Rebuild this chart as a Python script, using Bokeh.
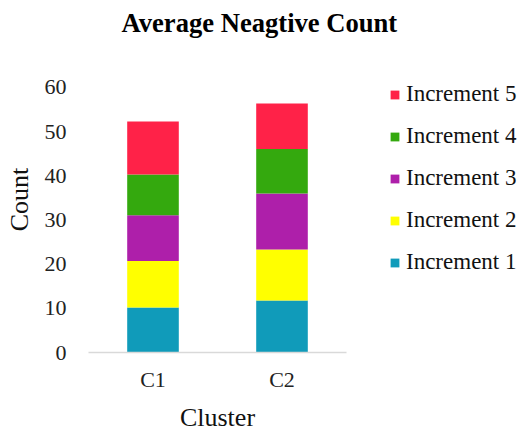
from bokeh.plotting import figure
from bokeh.models import ColumnDataSource, FactorRange, Range1d, Legend, LegendItem, FixedTicker
from bokeh.embed import file_html
from bokeh.resources import INLINE

clusters = ["C1", "C2"]
increments = ["Increment 1", "Increment 2", "Increment 3", "Increment 4", "Increment 5"]
inc1 = [10.2, 11.8]
inc2 = [10.5, 11.5]
inc3 = [10.4, 12.7]
inc4 = [9.2, 10.1]
inc5 = [12.0, 10.3]
colors = ["#109BBA", "#FFFF00", "#AE1FAA", "#34A90E", "#FF2248"]
y_ticks = [0, 10, 20, 30, 40, 50, 60]

FONT = "Liberation Serif"

source = ColumnDataSource(data=dict(cluster=clusters, i1=inc1, i2=inc2, i3=inc3, i4=inc4, i5=inc5))

p = figure(frame_width=258, frame_height=306, x_range=FactorRange(*clusters, range_padding=0),
           y_range=Range1d(0, 69.28), output_backend="svg", toolbar_location=None,
           title="Average Neagtive Count")
p.min_border_left = 88
p.min_border_right = 178
p.min_border_top = 45
p.min_border_bottom = 79
p.outline_line_color = None
p.background_fill_color = "white"
p.border_fill_color = "white"

p.title.text_font = FONT
p.title.text_font_size = "26.6px"
p.title.text_font_style = "bold"
p.title.align = "left"
p.title.offset = 33
p.title.vertical_align = "top"
p.title.standoff = 14
p.title.text_color = "black"

rs = p.vbar_stack(["i1", "i2", "i3", "i4", "i5"], x="cluster", width=0.4, source=source,
                  color=colors, line_color=None)

p.xgrid.visible = False
p.ygrid.visible = False

p.yaxis.ticker = FixedTicker(ticks=y_ticks)
p.yaxis.axis_line_color = None
p.yaxis.major_tick_line_color = None
p.yaxis.minor_tick_line_color = None
p.yaxis.major_tick_out = 0
p.yaxis.minor_tick_out = 0
p.yaxis.major_label_standoff = 22
p.yaxis.axis_label = "Count"
p.yaxis.axis_label_standoff = 8

p.xaxis.axis_line_color = "#D9D9D9"
p.xaxis.axis_line_width = 1.5
p.xaxis.major_tick_line_color = None
p.xaxis.minor_tick_line_color = None
p.xaxis.major_tick_out = 0
p.xaxis.minor_tick_out = 0
p.xaxis.major_label_standoff = 14
p.xaxis.axis_label = "Cluster"
p.xaxis.axis_label_standoff = 8

for ax in (p.xaxis[0], p.yaxis[0]):
    ax.major_label_text_font = FONT
    ax.major_label_text_font_size = "22px"
    ax.major_label_text_color = "#222222"
    ax.axis_label_text_font = FONT
    ax.axis_label_text_font_size = "26px"
    ax.axis_label_text_font_style = "normal"
    ax.axis_label_text_color = "#111111"

items = [LegendItem(label=increments[i], renderers=[rs[i]]) for i in reversed(range(5))]
legend = Legend(items=items, location=(43, 77), orientation="vertical")
legend.label_text_font = FONT
legend.label_text_font_size = "23px"
legend.label_text_color = "#111111"
legend.glyph_width = 11
legend.glyph_height = 11
legend.label_standoff = 6
legend.label_height = 21
legend.spacing = 16
legend.padding = 0
legend.margin = 0
legend.border_line_color = None
legend.background_fill_alpha = 0
p.add_layout(legend, "right")

open("out.html", "w").write(file_html(p, INLINE))
